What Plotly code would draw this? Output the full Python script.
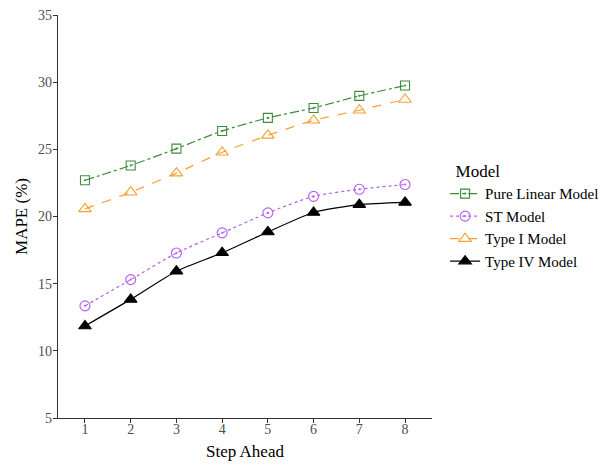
import plotly.graph_objects as go

steps = [1, 2, 3, 4, 5, 6, 7, 8]
pure_linear = [22.7, 23.8, 25.05, 26.37, 27.34, 28.08, 28.98, 29.75]
st_model = [13.35, 15.3, 17.28, 18.78, 20.27, 21.5, 22.03, 22.38]
type_i = [20.57, 21.81, 23.23, 24.78, 26.04, 27.16, 27.91, 28.71]
type_iv = [11.85, 13.83, 15.93, 17.3, 18.85, 20.3, 20.88, 21.05]

series = [
    ("Pure Linear Model", pure_linear, "#3d8b3d", "dashdot", "square-open-dot", 9),
    ("ST Model", st_model, "#b35cf6", "dot", "circle-open-dot", 10),
    ("Type I Model", type_i, "#f8a030", "dash", "triangle-up-open", 11),
    ("Type IV Model", type_iv, "#000000", "solid", "triangle-up", 11),
]

fig = go.Figure()
for name, vals, color, dash, sym, msize in series:
    fig.add_trace(go.Scatter(
        x=steps, y=vals, name=name, mode="lines+markers",
        line=dict(color=color, width=1.2, dash=dash, shape="spline", smoothing=0.6),
        marker=dict(symbol=sym, size=msize, color=color, line=dict(color=color, width=1.1)),
    ))

font_family = "Liberation Serif, Times New Roman, serif"
fig.update_layout(
    width=616, height=465,
    margin=dict(l=58, r=173, t=15, b=47),
    paper_bgcolor="white", plot_bgcolor="white",
    font=dict(family=font_family, color="#000000"),
    legend=dict(
        title=dict(text="\u00a0\u00a0Model", font=dict(size=17, family=font_family)),
        font=dict(size=15, family=font_family),
        x=1.035, xanchor="left", y=0.652, yanchor="top",
        tracegroupgap=0, itemwidth=30,
    ),
    xaxis=dict(
        title=dict(text="Step Ahead", font=dict(size=17), standoff=9),
        range=[0.41, 8.59], tickvals=steps, ticktext=[str(s) for s in steps],
        showgrid=False, zeroline=False, showline=True, linecolor="#333333", linewidth=1.3,
        ticks="outside", ticklen=4, tickcolor="#333333", automargin=False,
        tickfont=dict(size=14, color="#4d4d4d"), ticklabelstandoff=-6,
    ),
    yaxis=dict(
        title=dict(text="MAPE (%)", font=dict(size=17), standoff=6),
        range=[5, 35], tickvals=[5, 10, 15, 20, 25, 30, 35],
        showgrid=False, zeroline=False, showline=True, linecolor="#333333", linewidth=1.3,
        ticks="outside", ticklen=4, tickcolor="#333333", automargin=False,
        tickfont=dict(size=14, color="#4d4d4d"), ticklabelstandoff=-2,
    ),
)

fig.write_html("out.html", config={"displayModeBar": False},
               post_script="document.body.style.margin='0px';")
